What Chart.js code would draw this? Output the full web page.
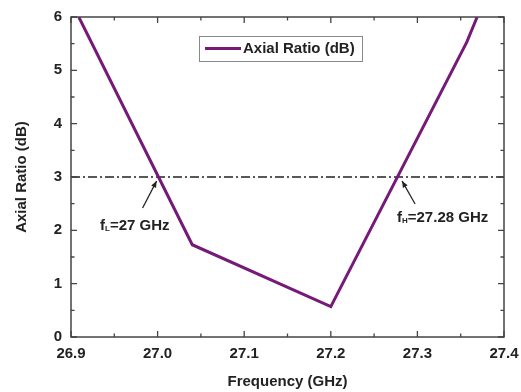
<!DOCTYPE html>
<html>
<head>
<meta charset="utf-8"/>
<script src="https://cdn.jsdelivr.net/npm/chart.js@4.4.0/dist/chart.umd.min.js"></script>
<style>
  * { margin: 0; padding: 0; }
  body { background: #fff; width: 521px; height: 392px; overflow: hidden; }
</style>
</head>
<body>
<canvas id="chart" width="521" height="392"></canvas>
<script>
// measured curve
const freq = [26.909, 27.04, 27.2, 27.357, 27.369];
const axialRatio = [6.0, 1.73, 0.57, 5.53, 6.0];

// 3 dB reference line
const refFreq = [26.9, 27.4];
const refLevel = [3, 3];

const xTicks = [26.9, 27.0, 27.1, 27.2, 27.3, 27.4];
const yTicks = [0, 1, 2, 3, 4, 5, 6];

const fLow = 27.0;
const fHigh = 27.28;

const FONT = '"Liberation Sans", Arial, sans-serif';
const PURPLE = '#761a78';
const AXIS = '#444';

const extras = {
    id: 'extras',
    afterDraw(chart) {
        const ctx = chart.ctx;
        const x = chart.scales.x, y = chart.scales.y;
        const a = chart.chartArea;
        ctx.save();

        // frame
        ctx.strokeStyle = AXIS;
        ctx.lineWidth = 1.5;
        ctx.strokeRect(a.left, a.top, a.right - a.left, a.bottom - a.top);

        // inward ticks, mirrored
        ctx.lineWidth = 1.3;
        for (let v = 26.9; v <= 27.4001; v += 0.05) {
            const px = x.getPixelForValue(v);
            const major = Math.abs(v * 10 - Math.round(v * 10)) < 0.01;
            const len = major ? 6 : 3.5;
            ctx.beginPath();
            ctx.moveTo(px, a.bottom); ctx.lineTo(px, a.bottom - len);
            ctx.moveTo(px, a.top); ctx.lineTo(px, a.top + len);
            ctx.stroke();
        }
        for (let v = 0; v <= 6.001; v += 0.5) {
            const py = y.getPixelForValue(v);
            const major = Math.abs(v - Math.round(v)) < 0.01;
            const len = major ? 6 : 3.5;
            ctx.beginPath();
            ctx.moveTo(a.left, py); ctx.lineTo(a.left + len, py);
            ctx.moveTo(a.right, py); ctx.lineTo(a.right - len, py);
            ctx.stroke();
        }

        // legend box
        ctx.fillStyle = '#fff';
        ctx.fillRect(199, 36, 163, 25);
        ctx.strokeStyle = '#888';
        ctx.lineWidth = 1;
        ctx.strokeRect(199.5, 36.5, 163, 25);
        ctx.strokeStyle = PURPLE;
        ctx.lineWidth = 3;
        ctx.beginPath();
        ctx.moveTo(205, 48.5); ctx.lineTo(241, 48.5);
        ctx.stroke();
        ctx.fillStyle = '#222';
        ctx.font = 'bold 15px ' + FONT;
        ctx.textBaseline = 'middle';
        ctx.textAlign = 'left';
        ctx.fillText('Axial Ratio (dB)', 243, 49);

        // arrows + labels
        function arrow(x0, y0, x1, y1) {
            ctx.strokeStyle = '#222';
            ctx.fillStyle = '#222';
            ctx.lineWidth = 1.3;
            ctx.beginPath();
            ctx.moveTo(x0, y0); ctx.lineTo(x1, y1);
            ctx.stroke();
            const ang = Math.atan2(y1 - y0, x1 - x0);
            ctx.beginPath();
            ctx.moveTo(x1, y1);
            ctx.lineTo(x1 - 7 * Math.cos(ang - 0.4), y1 - 7 * Math.sin(ang - 0.4));
            ctx.lineTo(x1 - 7 * Math.cos(ang + 0.4), y1 - 7 * Math.sin(ang + 0.4));
            ctx.closePath();
            ctx.fill();
        }
        const lx = x.getPixelForValue(fLow), hx = x.getPixelForValue(fHigh), ly = y.getPixelForValue(3);
        arrow(lx - 15, ly + 31, lx - 1, ly + 4);
        arrow(hx + 15, ly + 27, hx + 2, ly + 4);

        function subLabel(px, py, sub, rest) {
            ctx.fillStyle = '#222';
            ctx.textBaseline = 'alphabetic';
            ctx.textAlign = 'left';
            ctx.font = 'bold 15px ' + FONT;
            ctx.fillText('f', px, py);
            let w = ctx.measureText('f').width;
            ctx.font = 'bold 8px ' + FONT;
            ctx.fillText(sub, px + w, py + 1);
            w += ctx.measureText(sub).width;
            ctx.font = 'bold 15px ' + FONT;
            ctx.fillText(rest, px + w, py);
        }
        subLabel(100, 230, 'L', '=27 GHz');
        subLabel(397, 222, 'H', '=27.28 GHz');

        ctx.restore();
    }
};

new Chart(document.getElementById('chart'), {
    type: 'line',
    data: {
        datasets: [
            {
                label: 'Axial Ratio (dB)',
                data: freq.map((f, i) => ({ x: f, y: axialRatio[i] })),
                borderColor: PURPLE,
                borderWidth: 3,
                pointRadius: 0,
                tension: 0,
                fill: false
            },
            {
                label: '3 dB',
                data: refFreq.map((f, i) => ({ x: f, y: refLevel[i] })),
                borderColor: '#222',
                borderWidth: 1.3,
                borderDash: [9, 3, 2, 3],
                pointRadius: 0,
                fill: false
            }
        ]
    },
    options: {
        responsive: false,
        animation: false,
        devicePixelRatio: 1,
        layout: { padding: { top: 17, right: 17, left: 0, bottom: 0 } },
        plugins: { legend: { display: false }, tooltip: { enabled: false } },
        scales: {
            x: {
                type: 'linear',
                min: 26.9, max: 27.4,
                afterBuildTicks: s => { s.ticks = xTicks.map(v => ({ value: v })); },
                afterFit: s => { s.height = 55; },
                grid: { display: false },
                border: { display: false },
                ticks: {
                    color: '#222',
                    font: { family: FONT, weight: 'bold', size: 15 },
                    padding: 0,
                    maxRotation: 0,
                    autoSkip: false,
                    callback: v => v.toFixed(1)
                },
                title: {
                    display: true,
                    text: 'Frequency (GHz)',
                    color: '#222',
                    font: { family: FONT, weight: 'bold', size: 15 },
                    padding: { top: 6, bottom: 1 }
                }
            },
            y: {
                min: 0, max: 6,
                afterBuildTicks: s => { s.ticks = yTicks.map(v => ({ value: v })); },
                afterFit: s => { s.width = 71; },
                grid: { display: false },
                border: { display: false },
                ticks: {
                    color: '#222',
                    font: { family: FONT, weight: 'bold', size: 15 },
                    padding: 1,
                    autoSkip: false
                },
                title: {
                    display: true,
                    text: 'Axial Ratio (dB)',
                    color: '#222',
                    font: { family: FONT, weight: 'bold', size: 15 },
                    padding: { top: 13, bottom: 10 }
                }
            }
        }
    },
    plugins: [extras]
});
</script>
</body>
</html>
